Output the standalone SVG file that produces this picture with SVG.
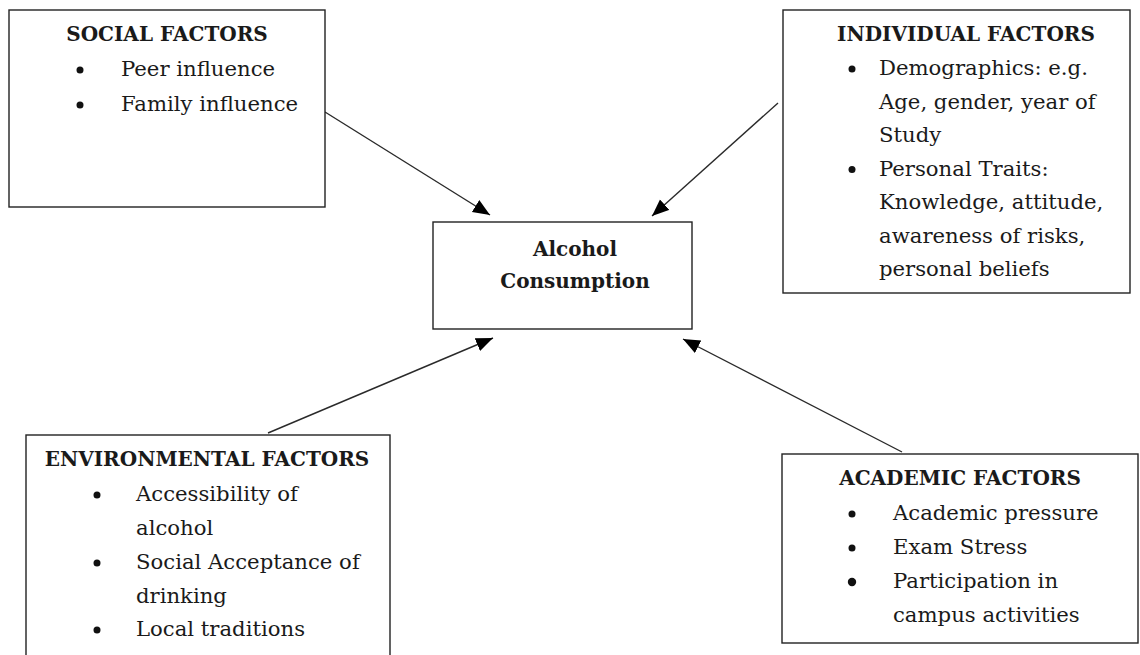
<svg xmlns="http://www.w3.org/2000/svg" width="1140" height="655" viewBox="0 0 1140 655">
<style>
.box{fill:#fff;stroke:#222;stroke-width:1.4}
.t{font-family:"DejaVu Serif","Liberation Serif",serif;font-size:21.2px;fill:#1a1a1a}
.h{font-family:"DejaVu Serif","Liberation Serif",serif;font-size:20px;font-weight:bold;fill:#1a1a1a;text-anchor:middle}
.b{fill:#111}
.c{stroke:#2a2a2a;stroke-width:1.4;fill:none;marker-end:url(#ah)}
</style>
<defs>
<marker id="ah" markerUnits="userSpaceOnUse" markerWidth="20" markerHeight="16" refX="17" refY="7" orient="auto">
<path d="M0,0 L17,7 L0,14 Z" fill="#000"/>
</marker>
</defs>
<rect width="1140" height="655" fill="#fff"/>
<g id="connectors">
<line class="c" x1="325" y1="112" x2="490" y2="215"/>
<line class="c" x1="778" y1="103" x2="652" y2="216"/>
<line class="c" x1="268" y1="433" x2="493" y2="338"/>
<line class="c" x1="902" y1="452" x2="683" y2="339"/>
</g>
<g id="social">
<rect class="box" x="9" y="10" width="316" height="197"/>
<text class="h" x="167" y="41">SOCIAL FACTORS</text>
<circle class="b" cx="80" cy="70" r="3.5"/>
<text class="t" x="121" y="76">Peer influence</text>
<circle class="b" cx="80" cy="105" r="3.5"/>
<text class="t" x="121" y="111">Family influence</text>
</g>
<g id="individual">
<rect class="box" x="783" y="10" width="347" height="283"/>
<text class="h" x="966" y="41">INDIVIDUAL FACTORS</text>
<circle class="b" cx="852" cy="69" r="3.5"/>
<text class="t" x="879" y="75">Demographics: e.g.</text>
<text class="t" x="879" y="108.5">Age, gender, year of</text>
<text class="t" x="879" y="142">Study</text>
<circle class="b" cx="852" cy="169.5" r="3.5"/>
<text class="t" x="879" y="175.5">Personal Traits:</text>
<text class="t" x="879" y="209">Knowledge, attitude,</text>
<text class="t" x="879" y="242.5">awareness of risks,</text>
<text class="t" x="879" y="276">personal beliefs</text>
</g>
<g id="alcohol">
<rect class="box" x="433" y="222" width="259" height="107"/>
<text class="h" x="575" y="256">Alcohol</text>
<text class="h" x="575" y="288">Consumption</text>
</g>
<g id="environmental">
<rect class="box" x="26" y="435" width="364" height="240"/>
<text class="h" x="207" y="466">ENVIRONMENTAL FACTORS</text>
<circle class="b" cx="97" cy="495" r="3.5"/>
<text class="t" x="136" y="501">Accessibility of</text>
<text class="t" x="136" y="535">alcohol</text>
<circle class="b" cx="97" cy="563" r="3.5"/>
<text class="t" x="136" y="569">Social Acceptance of</text>
<text class="t" x="136" y="603">drinking</text>
<circle class="b" cx="97" cy="630" r="3.5"/>
<text class="t" x="136" y="636">Local traditions</text>
</g>
<g id="academic">
<rect class="box" x="782" y="454" width="356" height="189"/>
<text class="h" x="960" y="485">ACADEMIC FACTORS</text>
<circle class="b" cx="852" cy="514" r="3.5"/>
<text class="t" x="893" y="520">Academic pressure</text>
<circle class="b" cx="852" cy="548" r="3.5"/>
<text class="t" x="893" y="554">Exam Stress</text>
<circle class="b" cx="852" cy="582" r="4.2"/>
<text class="t" x="893" y="588">Participation in</text>
<text class="t" x="893" y="622">campus activities</text>
</g>
</svg>
